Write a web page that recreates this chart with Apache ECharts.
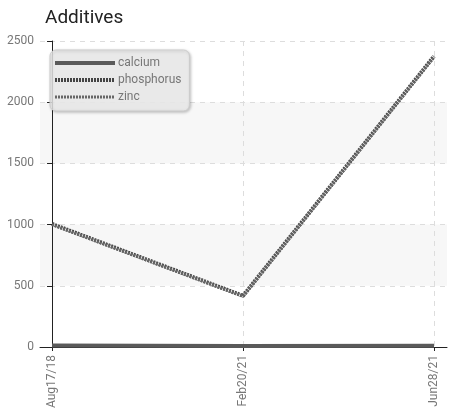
<!DOCTYPE html>
<html><head><meta charset="utf-8">
<script src="https://cdn.jsdelivr.net/npm/echarts@6/dist/echarts.min.js"></script>
<style>html,body{margin:0;padding:0;background:#fff}#c{width:451px;height:411px}</style>
</head><body><div id="c"></div>
<script>
const categories = ['Aug17/18', 'Feb20/21', 'Jun28/21'];
const calcium = [12, 8, 10];
const phosphorus = [1005, 418, 2375];
const zinc = [1000, 414, 2370];
const yTicks = [0, 500, 1000, 1500, 2000, 2500];

const toPts = arr => arr.map((v, i) => [i, v]);
const idx = categories.map((c, i) => i);
const font = 'Roboto';

const chart = echarts.init(document.getElementById('c'));
chart.setOption({
  animation: false,
  title: { text: 'Additives', left: 45, top: 9, padding: 0, textStyle: { fontFamily: font, fontSize: 19, fontWeight: 'normal', color: '#222' } },
  grid: { left: 40, right: 4, top: 41, bottom: 64, containLabel: false, outerBoundsMode: 'none' },
  legend: {
    orient: 'vertical', left: 50, top: 50, width: 142,
    padding: [7, 8, 8, 3], itemGap: 5, itemWidth: 60, itemHeight: 12,
    backgroundColor: 'rgba(238,238,238,0.85)', borderColor: '#ccc', borderWidth: 1, borderRadius: 6,
    shadowColor: 'rgba(0,0,0,0.25)', shadowBlur: 3, shadowOffsetX: 1, shadowOffsetY: 1,
    textStyle: { fontFamily: font, fontSize: 12, color: '#777', padding: [0, 0, 0, -2] },
    itemStyle: { opacity: 0 },
    data: [
      { name: 'calcium', lineStyle: { width: 4, type: 'solid' } },
      { name: 'phosphorus', lineStyle: { width: 4, type: [2, 1] } },
      { name: 'zinc', lineStyle: { width: 3, type: [2, 1] } }
    ]
  },
  xAxis: {
    type: 'value', min: -0.063, max: 2.068,
    axisLine: { lineStyle: { color: '#222' } },
    axisTick: { customValues: idx, length: 4, lineStyle: { color: '#222' } },
    axisLabel: { customValues: idx, rotate: 90, fontFamily: font, fontSize: 12, color: '#777',
      formatter: v => categories[Math.round(v)] },
    splitLine: { show: true, lineStyle: { color: '#ddd', type: [5, 5] } }
  },
  yAxis: {
    type: 'value', min: yTicks[0], max: yTicks[yTicks.length - 1], interval: 500,
    name: 'ppm', nameLocation: 'middle', nameGap: 41, nameTextStyle: { fontFamily: font, fontSize: 12, color: '#777' },
    axisLine: { show: true, lineStyle: { color: '#222' } },
    axisTick: { show: true, length: 5, lineStyle: { color: '#222' } },
    axisLabel: { fontFamily: font, fontSize: 12, color: '#777', margin: 6, formatter: v => String(v) },
    splitLine: { lineStyle: { color: '#ddd', type: [5, 5] } },
    splitArea: { show: true, areaStyle: { color: ['rgba(255,255,255,0)', '#f7f7f7'] } }
  },
  series: [
    { name: 'calcium', type: 'line', data: toPts(calcium), symbol: 'none',
      lineStyle: { width: 4, color: '#5a5a5a' }, itemStyle: { color: '#5a5a5a' } },
    { name: 'phosphorus', type: 'line', data: toPts(phosphorus), symbol: 'none',
      lineStyle: { width: 4, color: '#444', type: [2, 1] }, itemStyle: { color: '#444' } },
    { name: 'zinc', type: 'line', data: toPts(zinc), symbol: 'none',
      lineStyle: { width: 3, color: '#666', type: [2, 1] }, itemStyle: { color: '#666' } }
  ]
});
</script></body></html>
